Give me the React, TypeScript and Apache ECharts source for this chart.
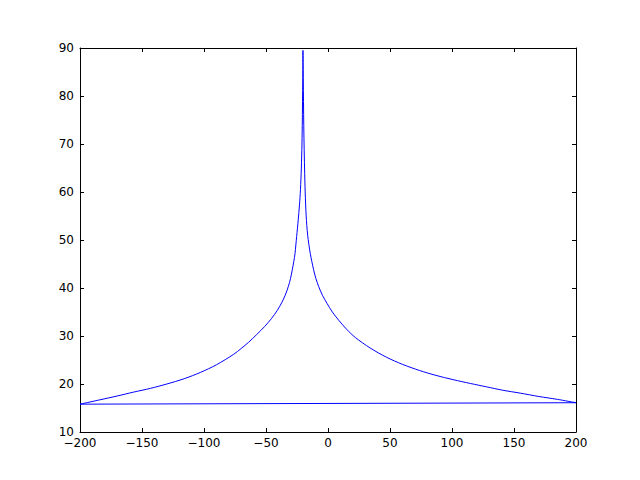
import React, { useEffect, useRef } from 'react';
import * as echarts from 'echarts';

// points, left to right
const xValues: number[] = [
  -200, -184, -170, -157, -143, -130, -116, -103, -90, -76, -70, -64, -57.5, -51, -45.4, -41,
  -37.4, -34.5, -32, -30.2, -28.8, -27.6, -26.6, -25.3, -24, -23, -22.2, -21.5, -21, -20.7,
  -20.5, -20.3, -20.2, -20, -19.8, -19.6, -19.3, -18.9, -18.4, -17.6, -16.4, -14.3, -11.6,
  -9.8, -7.5, -4.5, -0.8, 3.5, 8.6, 15, 22, 34, 47, 60, 74, 87, 101, 115, 128, 141,
  155, 170, 185, 200,
];
const yValues: number[] = [
  15.8, 16.7, 17.5, 18.3, 19.1, 20.0, 21.1, 22.4, 24.0, 26.2, 27.4, 28.7, 30.3, 32.0, 33.7, 35.3,
  36.9, 38.5, 40.3, 42.0, 43.8, 45.5, 47.2, 50.7, 54.2, 57.3, 60.5, 65, 70, 75,
  80, 85, 89.5, 85, 80, 75, 70, 65, 60, 55, 51, 47.2, 43.8,
  42.0, 40.3, 38.5, 36.8, 35.0, 33.3, 31.4, 29.7, 27.5, 25.6, 24.1, 22.8, 21.8, 20.9, 20.1,
  19.4, 18.7, 18.1, 17.4, 16.8, 16.1,
];

const xMin = -200;
const xMax = 200;
const xStep = 50;
const yMin = 10;
const yMax = 90;
const yStep = 10;

const fmtMinus = (v: number) => String(v).replace('-', '\u2212');

export default function App() {
  const chartRef = useRef<HTMLDivElement>(null);

  useEffect(() => {
    if (!chartRef.current) return;
    const chart = echarts.init(chartRef.current, undefined, { renderer: 'svg' });

    const font = { fontFamily: 'DejaVu Sans', fontSize: 12, color: '#000' };
    const line = { show: true, lineStyle: { color: '#000', width: 1 } };
    const tick = { show: true, inside: true, length: 4, lineStyle: { color: '#000', width: 1 } };

    const xBase = {
      type: 'value' as const,
      min: xMin,
      max: xMax,
      interval: xStep,
      axisLine: { ...line, onZero: false },
      axisTick: tick,
      splitLine: { show: false },
    };
    const yBase = {
      type: 'value' as const,
      min: yMin,
      max: yMax,
      interval: yStep,
      axisLine: { ...line, onZero: false },
      axisTick: tick,
      splitLine: { show: false },
    };

    const curve = xValues.map((x, i) => [x, yValues[i]]);
    const last = curve.length - 1;

    chart.setOption({
      animation: false,
      backgroundColor: '#fff',
      grid: { left: 80, right: 64, top: 48, bottom: 48 },
      xAxis: [
        {
          ...xBase,
          position: 'bottom',
          axisLabel: { ...font, margin: 5, formatter: fmtMinus },
        },
        { ...xBase, position: 'top', axisLabel: { show: false } },
      ],
      yAxis: [
        {
          ...yBase,
          position: 'left',
          axisLabel: { ...font, margin: 6, formatter: fmtMinus },
        },
        { ...yBase, position: 'right', axisLabel: { show: false } },
      ],
      series: [
        {
          type: 'line',
          xAxisIndex: 0,
          yAxisIndex: 0,
          showSymbol: false,
          smooth: 0.3,
          lineStyle: { color: '#0000ff', width: 1 },
          itemStyle: { color: '#0000ff' },
          data: curve,
        },
        {
          // straight segment closing the loop from the last point back to the first
          type: 'line',
          xAxisIndex: 0,
          yAxisIndex: 0,
          showSymbol: false,
          lineStyle: { color: '#0000ff', width: 1 },
          itemStyle: { color: '#0000ff' },
          data: [curve[last], curve[0]],
        },
      ],
    });

    return () => {
      chart.dispose();
    };
  }, []);

  return (
    <div
      ref={chartRef}
      style={{ position: 'fixed', left: 0, top: 0, width: 640, height: 480, background: '#fff' }}
    />
  );
}
